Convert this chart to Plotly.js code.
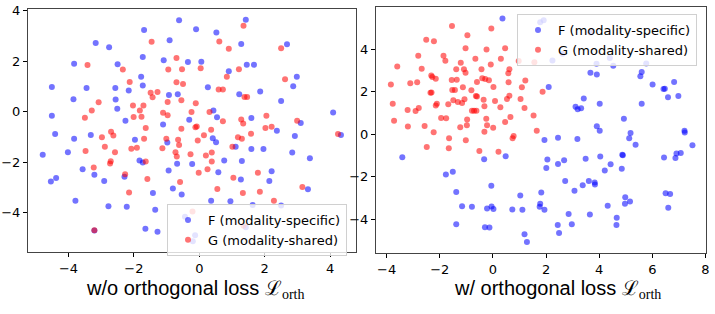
<!DOCTYPE html>
<html>
<head>
<meta charset="utf-8">
<script src="https://cdn.plot.ly/plotly-3.0.1.min.js"></script>
<style>html,body{margin:0;padding:0;background:#fff;}#chart{width:715px;height:314px;}</style>
</head>
<body>
<div id="chart"></div>
<script>
// ---- Left panel: w/o orthogonal loss ----
const leftFx = [-0.62,-1.69,-0.10,-3.17,-2.76,-0.91,-3.83,-2.50,-1.73,-1.09,-0.35,-4.51,-3.45,-2.57,-1.78,-1.73,-2.16,-0.93,-0.66,-3.85,-2.56,-2.51,-4.51,-2.26,-1.11,-0.31,
  -4.41,-3.83,-3.32,-1.97,-0.98,-4.79,-4.02,-1.83,-1.73,-0.68,-0.22,-3.57,-3.21,-4.54,-4.38,-2.91,-2.29,-0.94,-0.81,-0.54,-1.42,-3.79,-2.78,-2.22,-1.35,-0.44,-3.21,-1.65,-1.28,
  1.42,0.52,1.28,2.68,0.06,0.90,1.45,1.67,2.98,2.87,0.26,1.22,1.86,2.50,0.43,0.54,1.59,4.09,3.10,2.37,
  2.92,4.33,0.41,0.51,1.11,1.59,1.96,2.84,3.38,0.76,1.30,0.58,2.21,2.14,1.27,3.32,0.36,0.95,1.63,2.50,1.42,-0.13,-0.20];
const leftFy = [3.62,3.24,3.27,2.72,2.56,2.83,1.90,1.88,2.17,2.04,1.97,0.98,0.94,0.94,1.39,1.04,0.84,0.67,0.70,0.50,0.49,0.12,-0.16,-0.35,-0.50,-0.31,
  -0.88,-1.07,-0.92,-1.11,-1.22,-1.70,-1.60,-1.93,-2.01,-2.06,-2.07,-2.27,-2.49,-2.76,-2.62,-2.74,-2.57,-2.32,-3.04,-3.27,-3.21,-3.52,-3.74,-3.76,-3.88,-4.15,-4.70,-4.63,-4.75,
  3.64,3.14,2.68,2.67,1.98,1.61,1.86,1.86,1.39,1.01,0.97,0.70,0.80,0.43,0.05,-0.22,-0.25,-0.03,-0.44,-0.75,
  -0.96,-0.92,-1.05,-1.21,-1.38,-1.47,-1.47,-1.61,-1.84,-1.93,-1.95,-2.39,-2.35,-2.74,-2.68,-3.07,-3.52,-3.54,-3.69,-3.71,-4.57,-4.89,-5.12];
const leftGx = [-1.46,-3.42,-2.34,-0.70,-0.95,-0.53,-2.13,-0.70,-0.50,-1.49,-1.28,-1.43,-3.08,-0.97,-0.55,-0.11,-2.03,-1.71,-1.82,-3.29,-3.50,-2.01,-1.77,-1.11,-0.97,-0.24,-1.64,-0.55,-0.12,-0.08,
  -2.98,-2.63,-2.70,-1.69,-1.01,-0.65,-0.62,-0.05,-2.89,-3.48,-2.58,-2.08,-1.91,-1.13,-0.73,-0.69,-0.27,-2.71,-2.73,-1.64,-3.23,-2.27,-0.02,-1.59,-0.59,-2.15,-0.21,-3.21,
  1.35,0.61,0.90,2.50,0.04,1.21,0.84,2.62,0.59,0.72,1.38,1.46,0.31,1.28,1.34,0.72,2.05,2.99,0.36,2.02,2.21,
  0.14,1.18,1.30,1.58,4.24,1.01,0.20,0.38,0.38,0.25,1.04,1.79,0.55,1.33,1.85,3.15,2.28,1.35];
const leftGy = [2.77,1.85,1.67,2.13,1.67,1.68,1.18,1.17,1.10,0.75,0.78,0.58,0.38,0.39,0.46,0.34,0.25,0.25,0.05,0.05,-0.24,-0.21,-0.20,-0.04,-0.14,-0.01,-0.64,-0.67,-0.61,-0.58,
  -1.01,-0.94,-0.79,-1.07,-1.07,-1.11,-1.31,-1.14,-1.38,-1.55,-1.60,-1.46,-1.42,-1.44,-1.60,-1.77,-1.68,-1.96,-2.05,-1.97,-2.20,-2.47,-2.41,-2.66,-2.78,-3.19,-3.95,-4.69,
  3.41,2.78,2.50,2.52,1.72,1.68,1.39,1.29,0.88,0.88,0.59,0.59,-0.01,-0.30,-0.46,-0.37,-0.16,-0.35,-0.71,-0.64,-0.59,
  -0.93,-1.01,-1.07,-0.87,-0.88,-1.38,-1.73,-1.61,-1.97,-2.27,-2.61,-2.41,-3.06,-3.21,-3.16,-2.98,-3.52,-4.51];

// ---- Right panel: w/ orthogonal loss ----
const rightFx = [0.36,1.78,1.91,3.67,2.62,4.40,2.24,3.90,4.53,5.77,3.67,3.91,5.60,5.55,2.10,6.01,6.82,6.42,6.47,6.59,6.98,3.42,4.02,5.60,3.11,3.19,3.32,4.93,3.91,
  -3.41,-0.33,0.48,-1.77,-1.51,-1.38,-0.06,1.03,-1.16,-0.79,-0.22,-0.05,0.02,0.73,1.11,-1.38,-0.30,-0.13,1.19,1.28,
  4.02,7.21,7.22,5.18,1.94,2.45,3.18,5.13,5.37,7.51,2.05,2.01,2.45,2.68,3.49,4.04,4.43,4.21,4.89,4.87,4.85,6.44,6.87,6.91,7.07,
  2.72,3.38,3.61,3.83,3.84,3.07,1.82,6.50,6.67,6.60,4.98,5.16,4.97,4.32,1.78,1.76,1.94,2.85,3.65,4.66,4.65,2.44,2.97,2.49];
const rightFy = [5.46,5.28,5.38,4.80,3.79,3.60,3.48,3.32,3.23,3.34,2.90,2.82,2.93,2.73,2.23,2.35,2.46,2.13,2.15,1.74,1.80,1.68,1.44,1.44,1.30,1.18,1.22,0.73,0.38,
  -1.08,-1.18,-1.04,-1.90,-1.77,-2.72,-2.43,-2.89,-3.39,-3.42,-3.50,-3.41,-3.53,-3.55,-3.56,-4.24,-4.38,-4.40,-4.71,-5.08,
  0.16,0.16,0.08,0.06,-0.27,-0.17,-0.22,-0.19,-0.50,-0.52,-1.19,-1.59,-1.40,-1.23,-1.15,-1.05,-1.41,-1.71,-0.99,-0.97,-1.63,-1.10,-1.12,-0.91,-0.89,
  -2.21,-2.40,-2.21,-2.27,-2.37,-2.67,-2.75,-2.78,-2.82,-3.47,-2.97,-3.17,-3.28,-3.37,-3.28,-3.42,-3.56,-3.76,-3.78,-3.94,-4.28,-4.28,-4.24,-4.66];
const rightGx = [-1.54,-0.06,-0.96,-2.51,-2.22,-1.03,-0.24,0.46,-2.81,-1.86,-1.79,-3.60,-2.68,-0.66,0.30,-1.21,-0.08,0.62,0.58,0.97,-1.38,-1.09,-1.03,-0.43,
  -2.32,-2.28,-2.15,-1.55,-1.36,-0.40,-0.29,-0.15,-0.60,0.59,1.22,-3.84,-3.11,-2.85,-1.13,0.02,1.09,-1.53,-1.43,-2.35,-2.31,-0.81,-0.64,-0.60,
  -1.49,-1.32,-1.16,-1.07,-0.35,0.08,0.53,0.62,1.04,-2.11,-2.15,-1.68,-3.77,-0.32,0.28,1.19,-2.79,-3.21,-2.91,-0.79,-0.71,-0.62,
  -1.95,-1.76,-0.25,-0.97,0.66,-3.72,-0.98,-0.22,0.46,-3.20,-2.57,-1.23,0.01,
  1.56,1.87,1.53,1.65,
  -2.23,-0.32,-1.65,-2.49,-1.66,-1.02,-0.51,0.21,0.78,0.74];
const rightGy = [5.10,4.99,4.67,4.45,4.38,4.06,4.00,4.06,3.70,3.70,3.46,3.20,3.09,3.56,3.56,3.37,3.29,3.07,2.88,3.45,3.06,3.07,2.90,3.07,
  2.77,2.70,2.62,2.56,2.57,2.64,2.61,2.55,2.46,2.45,2.54,2.35,2.41,2.45,2.21,2.23,2.21,2.09,2.09,1.96,1.97,2.07,1.80,1.78,
  1.60,1.52,1.47,1.65,1.63,1.57,1.66,1.82,1.66,1.44,1.36,1.41,1.44,1.32,1.27,1.24,1.24,1.14,1.10,1.11,1.11,1.11,
  0.77,0.75,0.73,0.69,0.81,0.64,0.42,0.42,0.58,0.36,0.39,0.33,0.31,
  3.39,2.00,0.88,0.17,
  0.09,0.12,-0.19,-0.60,-0.66,-0.28,-0.79,-0.83,-0.08,-0.19];

const seriesNames = ['F (modality-specific)', 'G (modality-shared)'];
const panelTitles = ['w/o orthogonal loss', 'w/ orthogonal loss'];
const leftTicks = [-4, -2, 0, 2, 4];
const rightXTicks = [-4, -2, 0, 2, 4, 6, 8];
const rightYTicks = [-4, -2, 0, 2, 4];

const blue = 'rgba(0,0,255,0.55)';
const red = 'rgba(255,0,0,0.55)';
const mk = c => ({color: c, size: 6, line: {width: 0}});

const traces = [
  {type:'scatter', mode:'markers', x:leftFx, y:leftFy, xaxis:'x', yaxis:'y', name:seriesNames[0], marker:mk(blue), legend:'legend', hoverinfo:'skip'},
  {type:'scatter', mode:'markers', x:leftGx, y:leftGy, xaxis:'x', yaxis:'y', name:seriesNames[1], marker:mk(red), legend:'legend', hoverinfo:'skip'},
  {type:'scatter', mode:'markers', x:rightFx, y:rightFy, xaxis:'x2', yaxis:'y2', name:seriesNames[0], marker:mk(blue), legend:'legend2', hoverinfo:'skip'},
  {type:'scatter', mode:'markers', x:rightGx, y:rightGy, xaxis:'x2', yaxis:'y2', name:seriesNames[1], marker:mk(red), legend:'legend2', hoverinfo:'skip'}
];

const tickFont = {family:'DejaVu Sans', size:13, color:'#000'};
const axBase = {
  showgrid:false, zeroline:false, showline:true, mirror:true, linecolor:'#444', linewidth:1,
  ticks:'outside', ticklen:4, tickwidth:1, tickcolor:'#000', tickfont:tickFont, tickmode:'array'
};
const fmt = v => v < 0 ? '\u2212' + Math.abs(v) : String(v);

const W = 715, H = 314;
const legendStyle = {
  bgcolor:'rgba(255,255,255,0.8)', bordercolor:'#d0d0d0', borderwidth:1,
  font:{family:'DejaVu Sans', size:13, color:'#000'}, xanchor:'left', yanchor:'top', tracegroupgap:0
};
const sub = '<span style="font-family:DejaVu Serif">\u2112</span><sub><span style="font-family:Liberation Serif">orth</span></sub>';

const layout = {
  width:W, height:H, margin:{l:0, r:0, t:0, b:0},
  paper_bgcolor:'#fff', plot_bgcolor:'#fff', showlegend:true,
  xaxis: Object.assign({}, axBase, {domain:[28/W, 356/W], range:[-5.24, 4.79], tickvals:leftTicks, ticktext:leftTicks.map(fmt), anchor:'y'}),
  yaxis: Object.assign({}, axBase, {domain:[1-252/H, 1-9/H], range:[-5.55, 4.07], tickvals:leftTicks, ticktext:leftTicks.map(fmt), anchor:'x'}),
  xaxis2: Object.assign({}, axBase, {domain:[376/W, 706/W], range:[-4.4, 8.02], tickvals:rightXTicks, ticktext:rightXTicks.map(fmt), anchor:'y2'}),
  yaxis2: Object.assign({}, axBase, {domain:[1-253/H, 1-7/H], range:[-5.6, 6.0], tickvals:rightYTicks, ticktext:rightYTicks.map(fmt), anchor:'x2'}),
  legend: Object.assign({}, legendStyle, {x:167/W, y:1-204/H}),
  legend2: Object.assign({}, legendStyle, {x:517/W, y:1-14/H}),
  annotations: [
    {xref:'paper', yref:'paper', x:195/W, y:1-289/H, xanchor:'center', yanchor:'middle', showarrow:false,
     text: panelTitles[0] + ' ' + sub, font:{family:'Liberation Sans', size:20, color:'#000'}},
    {xref:'paper', yref:'paper', x:557/W, y:1-289/H, xanchor:'center', yanchor:'middle', showarrow:false,
     text: panelTitles[1] + ' ' + sub, font:{family:'Liberation Sans', size:20, color:'#000'}}
  ]
};

Plotly.newPlot('chart', traces, layout, {staticPlot:true, displayModeBar:false});
</script>
</body>
</html>
